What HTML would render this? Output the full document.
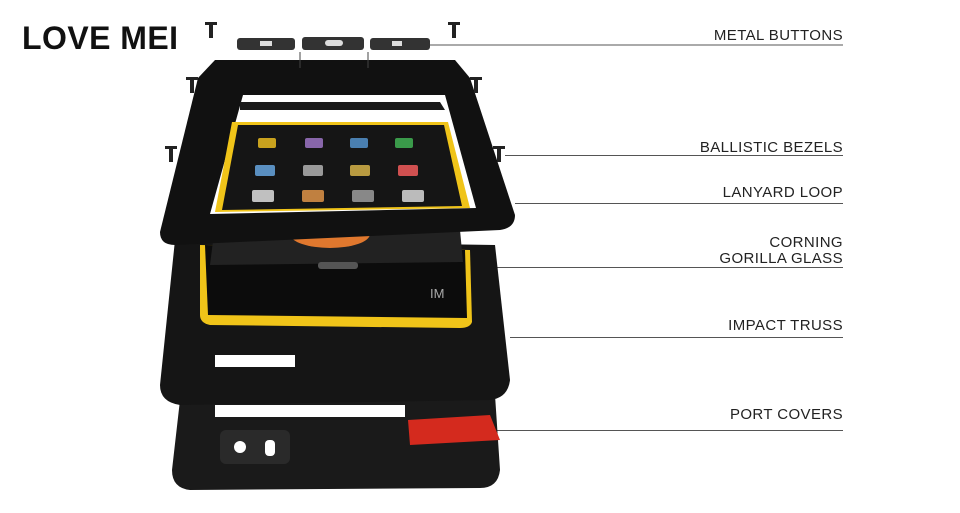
<!DOCTYPE html>
<html><head><meta charset="utf-8"><style>
html,body{margin:0;padding:0;background:#fff;}
svg{display:block}
.l{font-family:"Liberation Sans",sans-serif;font-size:15px;fill:#222;letter-spacing:0.4px}
</style></head><body>
<svg width="960" height="513" viewBox="0 0 960 513" xmlns="http://www.w3.org/2000/svg">
<rect width="960" height="513" fill="#fff"/>
<text x="22" y="49" font-family="Liberation Sans,sans-serif" font-weight="bold" font-size="32" fill="#111" textLength="156">LOVE MEI</text>

<g text-anchor="end">
<text class="l" x="843" y="40">METAL BUTTONS</text>
<text class="l" x="843" y="152">BALLISTIC BEZELS</text>
<text class="l" x="843" y="197">LANYARD LOOP</text>
<text class="l" x="843" y="247">CORNING</text>
<text class="l" x="843" y="263">GORILLA GLASS</text>
<text class="l" x="843" y="330">IMPACT TRUSS</text>
<text class="l" x="843" y="419">PORT COVERS</text>
</g>
<g stroke="#555" stroke-width="1">
<line x1="430" y1="45" x2="843" y2="45"/>
<line x1="505" y1="155.5" x2="843" y2="155.5"/>
<line x1="515" y1="203.5" x2="843" y2="203.5"/>
<line x1="465" y1="267.5" x2="843" y2="267.5"/>
<line x1="510" y1="337.5" x2="843" y2="337.5"/>
<line x1="480" y1="430.5" x2="843" y2="430.5"/>
</g>

<!-- back cover -->
<path d="M180 400 L495 395 L500 470 Q498 488 480 488 L190 490 Q172 488 172 470 Z" fill="#1a1a1a"/>
<rect x="220" y="430" width="70" height="34" rx="6" fill="#2a2a2a"/>
<circle cx="240" cy="447" r="6" fill="#fff"/>
<rect x="265" y="440" width="10" height="16" rx="4" fill="#fff"/>
<path d="M408 420 L490 415 L500 440 L410 445 Z" fill="#d42a1e"/>

<!-- middle truss body -->
<path d="M175 240 L495 245 L510 380 Q508 398 490 400 L180 405 Q160 402 160 385 Z" fill="#151515"/>
<path d="M200 245 L470 250 L472 322 Q470 328 460 328 L210 325 Q200 323 200 315 Z" fill="#f0c419"/>
<path d="M205 245 L465 250 L467 318 L208 315 Z" fill="#0c0c0c"/>
<text x="430" y="298" font-family="Liberation Sans,sans-serif" font-size="13" fill="#aaa">IM</text>
<rect x="215" y="355" width="80" height="12" fill="#fff"/>
<rect x="215" y="405" width="190" height="12" fill="#fff"/>

<!-- glass layer -->
<path d="M215 225 L460 230 L463 262 L210 265 Z" fill="#222"/>
<ellipse cx="330" cy="234" rx="40" ry="14" fill="#e0782e"/>
<rect x="318" y="262" width="40" height="7" rx="3" fill="#555"/>

<!-- top frame -->
<path d="M215 60 L455 60 L470 78 L515 215 Q515 228 500 230 L175 245 Q160 245 160 232 L198 78 Z" fill="#111"/>
<path d="M243 95 L445 95 L476 208 L210 214 Z" fill="#fff"/>
<path d="M240 102 L440 102 L445 110 L240 110 Z" fill="#1a1a1a"/>
<path d="M232 122 L448 122 L470 208 L215 212 Z" fill="#f0c419"/>
<path d="M238 125 L444 125 L462 206 L222 210 Z" fill="#151515"/>
<g>
<rect x="258" y="138" width="18" height="10" rx="2" fill="#c9a21e"/>
<rect x="305" y="138" width="18" height="10" rx="2" fill="#8866aa"/>
<rect x="350" y="138" width="18" height="10" rx="2" fill="#4a7fb0"/>
<rect x="395" y="138" width="18" height="10" rx="2" fill="#3a9a4a"/>
<rect x="255" y="165" width="20" height="11" rx="2" fill="#5a8fc0"/>
<rect x="303" y="165" width="20" height="11" rx="2" fill="#999"/>
<rect x="350" y="165" width="20" height="11" rx="2" fill="#b89a40"/>
<rect x="398" y="165" width="20" height="11" rx="2" fill="#d05050"/>
<rect x="252" y="190" width="22" height="12" rx="2" fill="#c0c0c0"/>
<rect x="302" y="190" width="22" height="12" rx="2" fill="#c08040"/>
<rect x="352" y="190" width="22" height="12" rx="2" fill="#888"/>
<rect x="402" y="190" width="22" height="12" rx="2" fill="#bbb"/>
</g>

<!-- buttons -->
<g fill="#333">
<rect x="237" y="38" width="58" height="12" rx="3"/>
<rect x="302" y="37" width="62" height="13" rx="3"/>
<rect x="370" y="38" width="60" height="12" rx="3"/>
</g>
<g fill="#ddd"><rect x="260" y="41" width="12" height="5"/><rect x="325" y="40" width="18" height="6" rx="3"/><rect x="392" y="41" width="10" height="5"/></g>
<line x1="300" y1="52" x2="300" y2="68" stroke="#444"/>
<line x1="368" y1="52" x2="368" y2="68" stroke="#444"/>

<!-- screws -->
<g fill="#222">
<rect x="205" y="22" width="12" height="3"/><rect x="209" y="22" width="4" height="16"/>
<rect x="448" y="22" width="12" height="3"/><rect x="452" y="22" width="4" height="16"/>
<rect x="186" y="77" width="12" height="3"/><rect x="190" y="77" width="4" height="16"/>
<rect x="470" y="77" width="12" height="3"/><rect x="474" y="77" width="4" height="16"/>
<rect x="165" y="146" width="12" height="3"/><rect x="169" y="146" width="4" height="16"/>
<rect x="493" y="146" width="12" height="3"/><rect x="497" y="146" width="4" height="16"/>
</g>
</svg>
</body></html>
